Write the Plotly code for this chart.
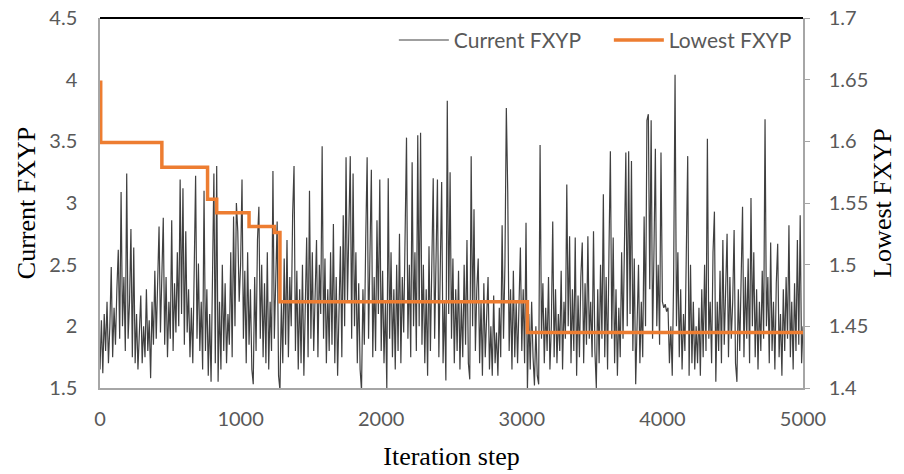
import plotly.graph_objects as go

# ---------------- data ----------------
iteration_step = list(range(0, 5001, 10))

current_fxyp = [
    1.65, 2.05, 1.62, 2.1, 1.8, 2.2, 1.7, 2.0, 2.48, 1.75, 2.15, 1.85, 2.3, 2.62, 1.9, 3.09, 2.0, 2.4, 1.8, 3.24, 1.9, 2.2, 2.79, 1.75, 2.64,
    1.7, 2.1, 1.65, 1.95, 2.25, 1.7, 2.0, 1.75, 2.3, 1.8, 2.05, 1.58, 2.2, 1.85, 2.45, 1.9, 2.3, 2.81, 1.95, 2.5, 2.88, 1.85, 2.4, 1.75, 2.2,
    1.9, 2.86, 1.8, 2.35, 1.95, 2.6, 2.0, 3.19, 2.1, 3.12, 1.85, 2.77, 1.95, 2.3, 1.75, 2.15, 1.7, 2.4, 3.22, 1.9, 2.51, 1.8, 2.2, 1.65, 3.10,
    1.8, 2.3, 1.6, 2.1, 1.55, 2.4, 3.24, 1.7, 3.30, 1.55, 2.2, 1.65, 2.5, 1.8, 2.35, 1.7, 2.1, 1.85, 2.6, 1.75, 2.89, 2.0, 3.0, 2.77, 2.2,
    2.5, 3.19, 1.9, 2.45, 1.7, 2.6, 1.85, 2.3, 1.65, 1.53, 2.4, 1.8, 2.7, 2.97, 1.9, 2.5, 1.75, 2.35, 1.7, 2.6, 1.65, 2.2, 1.8, 3.26, 1.9,
    2.4, 2.85, 1.6, 1.48, 2.2, 1.7, 2.55, 1.85, 2.7, 1.75, 2.4, 2.0, 2.9, 3.30, 1.8, 2.45, 1.65, 2.3, 1.7, 2.5, 1.6, 2.2, 2.72, 1.75, 3.1,
    1.9, 2.6, 1.8, 2.35, 2.7, 1.75, 2.5, 2.1, 3.46, 1.9, 2.55, 1.7, 2.3, 1.8, 2.6, 1.85, 2.83, 1.7, 2.4, 1.6, 2.2, 2.65, 1.75, 2.9, 2.0,
    3.37, 2.2, 2.8, 3.38, 1.9, 3.24, 2.0, 2.6, 1.7, 2.35, 1.65, 1.48, 2.3, 1.85, 2.7, 3.37, 1.9, 2.5, 3.27, 1.75, 2.4, 1.8, 2.86, 2.1, 3.19,
    1.8, 2.45, 1.7, 2.2, 1.49, 3.2, 1.9, 2.6, 1.75, 2.3, 1.65, 2.5, 1.8, 2.75, 1.7, 2.4, 1.95, 2.8, 3.53, 1.9, 2.5, 1.75, 3.33, 2.0, 2.6,
    1.8, 3.55, 2.0, 3.57, 1.85, 2.5, 1.7, 2.3, 1.6, 2.65, 1.8, 2.4, 3.2, 1.9, 2.7, 3.19, 1.75, 2.35, 3.17, 1.7, 2.2, 1.56, 3.83, 2.1, 3.25,
    1.9, 2.55, 1.7, 2.3, 1.8, 2.45, 1.65, 2.2, 1.75, 2.5, 1.85, 2.7, 1.7, 1.57, 3.38, 2.0, 2.95, 1.8, 2.3, 2.55, 1.7, 2.2, 1.6, 2.35, 1.75,
    2.1, 2.4, 1.65, 2.0, 1.6, 2.25, 1.7, 1.95, 1.6, 2.15, 1.75, 2.82, 1.9, 2.5, 3.77, 3.09, 1.8, 2.3, 1.65, 2.45, 1.75, 2.2, 1.7, 2.1, 2.64,
    1.8, 2.3, 1.7, 2.84, 1.48, 2.1, 1.65, 2.2, 1.75, 1.52, 2.0, 1.6, 1.53, 3.47, 1.9, 2.35, 1.7, 2.15, 1.8, 2.4, 1.65, 2.0, 2.85, 1.75, 2.3,
    1.7, 2.1, 1.8, 2.45, 1.65, 2.2, 1.9, 3.15, 2.0, 2.73, 1.7, 2.3, 1.8, 2.72, 1.6, 2.25, 1.75, 2.4, 2.68, 1.7, 2.35, 1.85, 2.73, 1.9, 2.2,
    1.75, 2.77, 1.8, 1.5, 2.3, 1.7, 2.5, 1.9, 3.07, 1.75, 2.4, 1.65, 2.6, 3.42, 1.9, 2.72, 1.7, 2.3, 1.6, 2.15, 1.75, 2.6, 1.9, 2.85, 3.41,
    2.0, 3.42, 2.1, 3.34, 1.8, 2.55, 1.53, 2.1, 2.5, 1.7, 2.2, 1.75, 2.89, 2.0, 3.67, 3.72, 2.3, 3.67, 1.9, 2.6, 3.44, 2.0, 2.5, 1.85, 3.41,
    2.2, 2.15, 2.18, 2.12, 2.15, 1.7, 2.0, 1.6, 2.4, 4.04, 2.0, 2.6, 1.75, 2.3, 1.65, 2.1, 1.8, 2.55, 3.38, 1.6, 2.5, 1.7, 2.2, 1.65, 2.0,
    1.7, 2.15, 1.6, 2.3, 1.75, 2.5, 1.8, 3.52, 1.9, 2.2, 1.7, 2.6, 2.93, 1.55, 2.2, 1.8, 2.45, 1.7, 2.7, 1.85, 2.3, 2.75, 1.75, 2.4, 1.9,
    2.2, 2.78, 1.7, 1.55, 2.3, 1.8, 2.5, 2.97, 1.75, 2.4, 1.9, 2.55, 1.7, 3.04, 2.0, 2.6, 1.75, 2.3, 1.65, 2.2, 1.8, 2.45, 1.9, 3.68, 2.0,
    2.4, 1.7, 2.68, 1.8, 2.2, 1.65, 2.35, 2.67, 1.75, 2.1, 1.6, 2.3, 1.8, 2.4, 1.9, 2.82, 1.75, 2.2, 1.65, 2.35, 1.8, 2.7, 1.85, 2.9, 1.7,
    2.0,
]

lowest_step = [0, 5, 440, 765, 830, 1060, 1240, 1280, 3040, 5000]
lowest_fxyp = [1.648, 1.599, 1.579, 1.553, 1.542, 1.531, 1.526, 1.470, 1.445, 1.445]

# ---------------- figure ----------------
TICK_FONT = dict(family="Lato", size=20, color="#595959")
TITLE_FONT = dict(family="Liberation Serif", size=26, color="#000000")
AXIS_GRAY = "#A6A6A6"

fig = go.Figure()
fig.add_trace(go.Scatter(
    x=iteration_step, y=current_fxyp, mode="lines", name="Current FXYP",
    line=dict(color="#404040", width=1.2), yaxis="y",
))
fig.add_trace(go.Scatter(
    x=lowest_step, y=lowest_fxyp, mode="lines", name="Lowest FXYP",
    line=dict(color="#ED7D31", width=3.5, shape="hv"), yaxis="y2",
))

fig.update_layout(
    width=904, height=474,
    margin=dict(l=100, r=101, t=18, b=86, autoexpand=False),
    paper_bgcolor="white", plot_bgcolor="white",
    showlegend=True,
    legend=dict(
        orientation="h", x=0.418, xanchor="left", y=0.995, yanchor="top",
        font=dict(family="Lato", size=21, color="#595959"),
        bgcolor="rgba(255,255,255,0)", itemwidth=50, entrywidth=150,
    ),
    xaxis=dict(
        range=[0, 5000], dtick=1000, showgrid=False, zeroline=False,
        showline=True, linecolor=AXIS_GRAY, linewidth=1.5, automargin=False,
        ticks="", tickfont=TICK_FONT, ticklabelstandoff=12,
        title=dict(text="Iteration step", font=TITLE_FONT, standoff=18),
    ),
    yaxis=dict(
        range=[1.5, 4.5], dtick=0.5, showgrid=False, zeroline=False,
        showline=True, linecolor=AXIS_GRAY, linewidth=1.5, automargin=False,
        ticks="", tickfont=TICK_FONT, ticklabelstandoff=17,
        title=dict(text="Current FXYP", font=TITLE_FONT, standoff=6),
    ),
    yaxis2=dict(
        range=[1.4, 1.7], dtick=0.05, overlaying="y", side="right",
        showgrid=False, zeroline=False, automargin=False,
        showline=True, linecolor=AXIS_GRAY, linewidth=1.5,
        ticks="outside", ticklen=5, tickcolor=AXIS_GRAY, tickwidth=1,
        tickfont=TICK_FONT, ticklabelstandoff=15,
        title=dict(text="Lowest FXYP", font=TITLE_FONT, standoff=6),
    ),
    shapes=[dict(
        type="line", xref="paper", yref="paper", x0=0, x1=1, y0=1, y1=1,
        line=dict(color="#000000", width=2),
    )],
)

fig.write_html(
    "out.html",
    config={"displayModeBar": False},
    post_script="document.body.style.margin='0';document.body.style.padding='0';",
)
